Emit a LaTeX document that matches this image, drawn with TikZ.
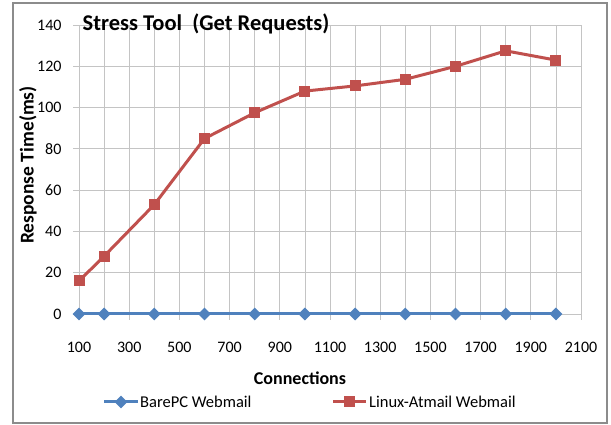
\documentclass[tikz,border=0pt]{standalone}
\usepackage{fontspec}
\setmainfont{Carlito}
\usetikzlibrary{shapes.geometric}
\definecolor{barepc}{HTML}{4F81BD}
\definecolor{atmail}{HTML}{C0504D}
\definecolor{rejilla}{HTML}{C4C4C4}
\definecolor{marco}{HTML}{8C8C8C}
\begin{document}
\begin{tikzpicture}[x=1pt, y=1pt,
        marcaBare/.style={diamond, fill=barepc, inner sep=0pt, minimum size=13pt},
        marcaLinux/.style={rectangle, fill=atmail, inner sep=0pt, minimum size=11pt},
        etiq/.style={font=\fontsize{16}{18}\selectfont},
        leyenda/.style={font=\fontsize{16.5}{19}\selectfont, anchor=west, inner sep=0pt},
        titulo/.style={font=\fontsize{18}{20}\selectfont\bfseries}]
        \useasboundingbox (0,0) rectangle (611,425);
        % ~~~~ Marco ~~~~ %
        \draw[marco, line width=1.2pt] (13,2) rectangle (607,422);

        \begin{scope}[shift={(53.9pt,111pt)}, x=0.251pt, y=2.064pt]
            % ~~~~ Rejilla ~~~~ %
            \foreach \y in {0,20,...,140}
                \draw[rejilla, line width=0.8pt] (100,\y) ++(-6pt,0) -- (2100,\y);
            \foreach \x in {100,200,...,2100}
                \draw[rejilla, line width=0.8pt] (\x,0) ++(0,-6pt) -- (\x,140);

            % ~~~~ Ejes ~~~~ %
            \foreach \y in {0,20,...,140}
                \node[etiq, anchor=east, xshift=-14pt] (ey\y) at (100,\y) {\y};
            \foreach \x in {100,300,...,2100}
                \node[etiq, yshift=-33pt] (ex\x) at (\x,0) {\x};

            % ~~~~ Datos ~~~~ %
            \draw[barepc, line width=3pt] plot coordinates {(100,0) (2000,0)};
            \foreach \x in {100,200,400,...,2000}
                \node[marcaBare] (b\x) at (\x,0) {};

            \draw[atmail, line width=3pt, line join=round] plot coordinates {
                (100,16) (200,28) (400,53) (600,85) (800,97.5) (1000,108)
                (1200,110.5) (1400,113.7) (1600,120) (1800,127.5) (2000,123)};
            \foreach \x/\y in {100/16, 200/28, 400/53, 600/85, 800/97.5, 1000/108,
                    1200/110.5, 1400/113.7, 1600/120, 1800/127.5, 2000/123}
                \node[marcaLinux] (l\x) at (\x,\y) {};
        \end{scope}

        % ~~~~ Titulos ~~~~ %
        \node[font=\fontsize{22.5}{24}\selectfont\bfseries] (titulo) at (206,401)
            {Stress Tool\ \ (Get Requests)};
        \node[titulo, font=\fontsize{19.5}{21}\selectfont\bfseries, rotate=90] (ytit) at (28,260)
            {Response Time(ms)};
        \node[titulo] (xtit) at (300,47) {Connections};

        % ~~~~ Leyenda ~~~~ %
        \draw[barepc, line width=3pt] (104,23) -- (138,23);
        \node[marcaBare] (lb) at (121,23) {};
        \node[leyenda] (tb) at (140,23) {BarePC Webmail};
        \draw[atmail, line width=3pt] (333,23) -- (366,23);
        \node[marcaLinux] (ll) at (349.5,23) {};
        \node[leyenda] (tl) at (369,23) {Linux-Atmail Webmail};
\end{tikzpicture}
\end{document}
